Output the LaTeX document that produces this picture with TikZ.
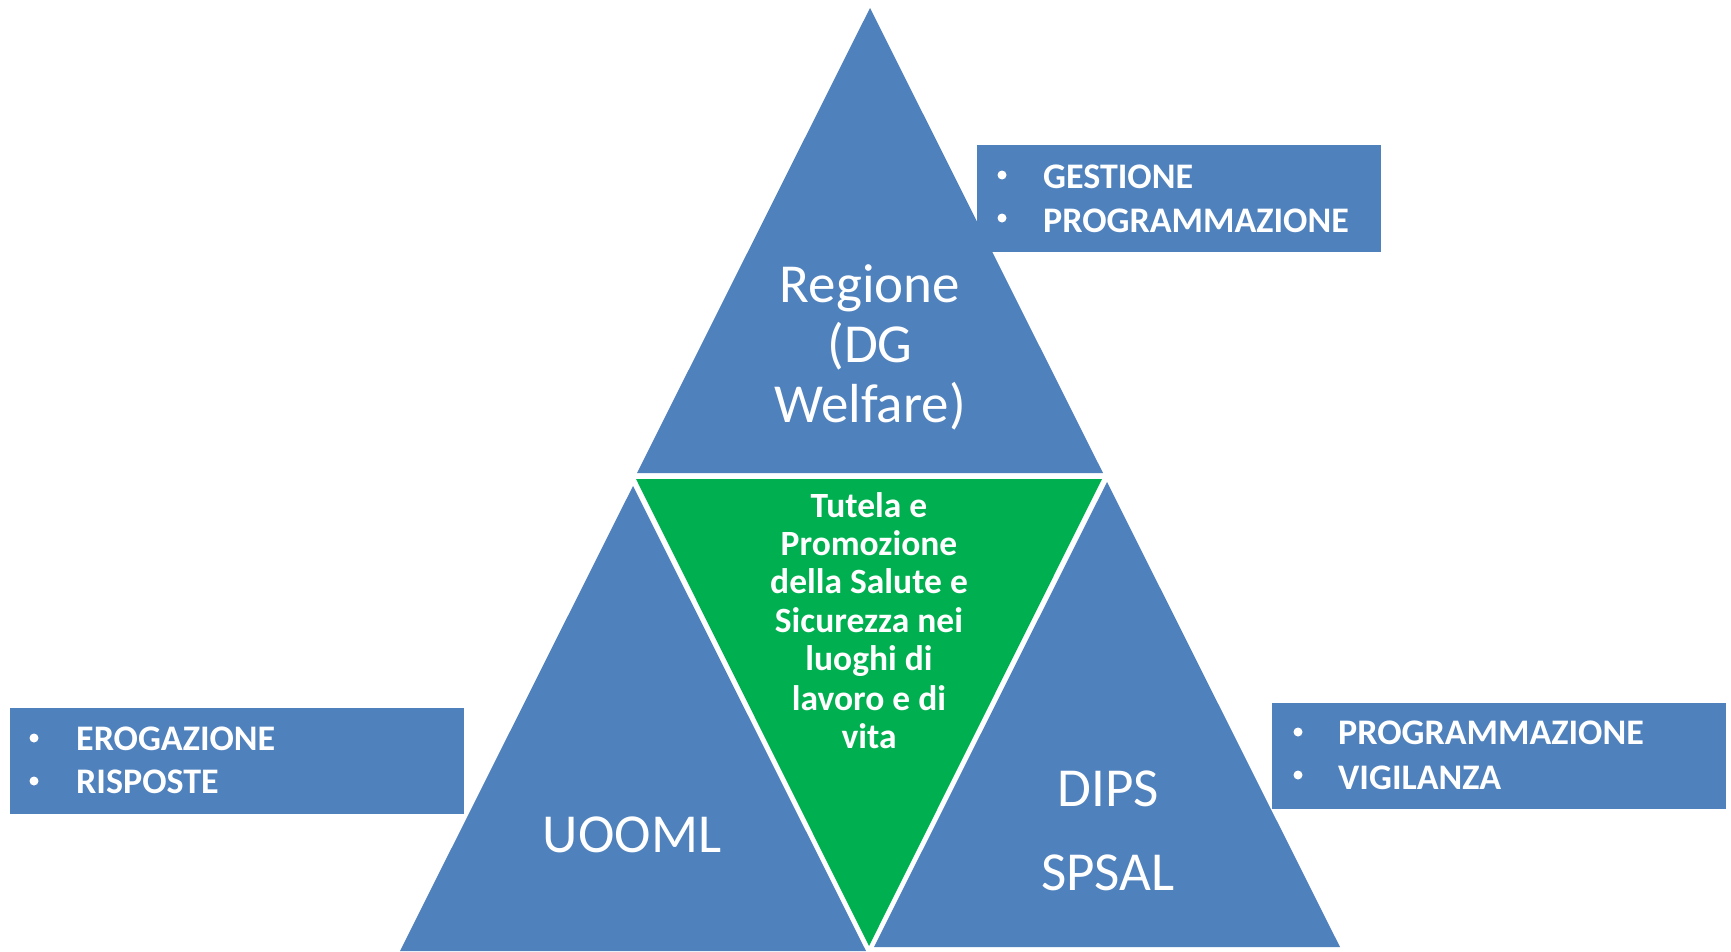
\documentclass[tikz,border=0pt]{standalone}
\usepackage{fontspec}
\setmainfont{Carlito}
\definecolor{tblue}{HTML}{4F81BD}
\definecolor{tgreen}{HTML}{00B050}
\begin{document}
\begin{tikzpicture}[x=1pt,y=-1pt,
  big/.style={text=white,font=\fontsize{55}{60}\selectfont,inner sep=0pt,anchor=base},
  mid/.style={text=white,font=\bfseries\fontsize{35.5}{39}\selectfont,inner sep=0pt,anchor=base},
  item/.style={text=white,font=\bfseries\fontsize{36}{39}\selectfont,inner sep=0pt,anchor=base west},
  boxst/.style={fill=tblue,draw=none,anchor=north west,inner sep=0pt},
  bul/.style={circle,fill=white,draw=none,minimum size=9pt,inner sep=0pt}]
\useasboundingbox (0,0) rectangle (1731,951);
\fill[white] (0,0) rectangle (1731,951);
% triangles
\fill[tblue] (870,8) -- (637,473) -- (1103,473) -- cycle;
\fill[tblue] (633,486) -- (400,951) -- (866,951) -- cycle;
\fill[tblue] (1107,482) -- (874,947) -- (1340,947) -- cycle;
\fill[tgreen] (636,479) -- (1102,479) -- (869,946) -- cycle;
% side boxes
\node[boxst,minimum width=404pt,minimum height=107pt] (boxtop) at (977,145) {};
\node[boxst,minimum width=454pt,minimum height=106pt] (boxleft) at (10,708) {};
\node[boxst,minimum width=454pt,minimum height=106pt] (boxright) at (1272,703) {};
% top triangle text
\node[big] (r1) at (870,302) {Regione};
\node[big] (r2) at (870,362) {(DG};
\node[big] (r3) at (870,422) {Welfare)};
% left/right triangle text
\node[big] (u1) at (632,852) {UOOML};
\node[big] (d1) at (1108,806) {DIPS};
\node[big] (d2) at (1108,890) {SPSAL};
% green text
\node[mid] (g1) at (869,517) {Tutela e};
\node[mid] (g2) at (869,555) {Promozione};
\node[mid] (g3) at (869,593) {della Salute e};
\node[mid] (g4) at (869,632) {Sicurezza nei};
\node[mid] (g5) at (869,670) {luoghi di};
\node[mid] (g6) at (869,710) {lavoro e di};
\node[mid] (g7) at (869,748) {vita};
% box items
\node[bul] (tb1) at (1002,175) {};
\node[item] (t1) at (1043,188) {GESTIONE};
\node[bul] (tb2) at (1002,218) {};
\node[item] (t2) at (1043,232) {PROGRAMMAZIONE};
\node[bul] (lb1) at (34,738) {};
\node[item] (l1) at (76,750) {EROGAZIONE};
\node[bul] (lb2) at (34,781) {};
\node[item] (l2) at (76,793) {RISPOSTE};
\node[bul] (rb1) at (1298,732) {};
\node[item] (p1) at (1338,744) {PROGRAMMAZIONE};
\node[bul] (rb2) at (1298,775) {};
\node[item] (p2) at (1338,789) {VIGILANZA};
\end{tikzpicture}
\end{document}
